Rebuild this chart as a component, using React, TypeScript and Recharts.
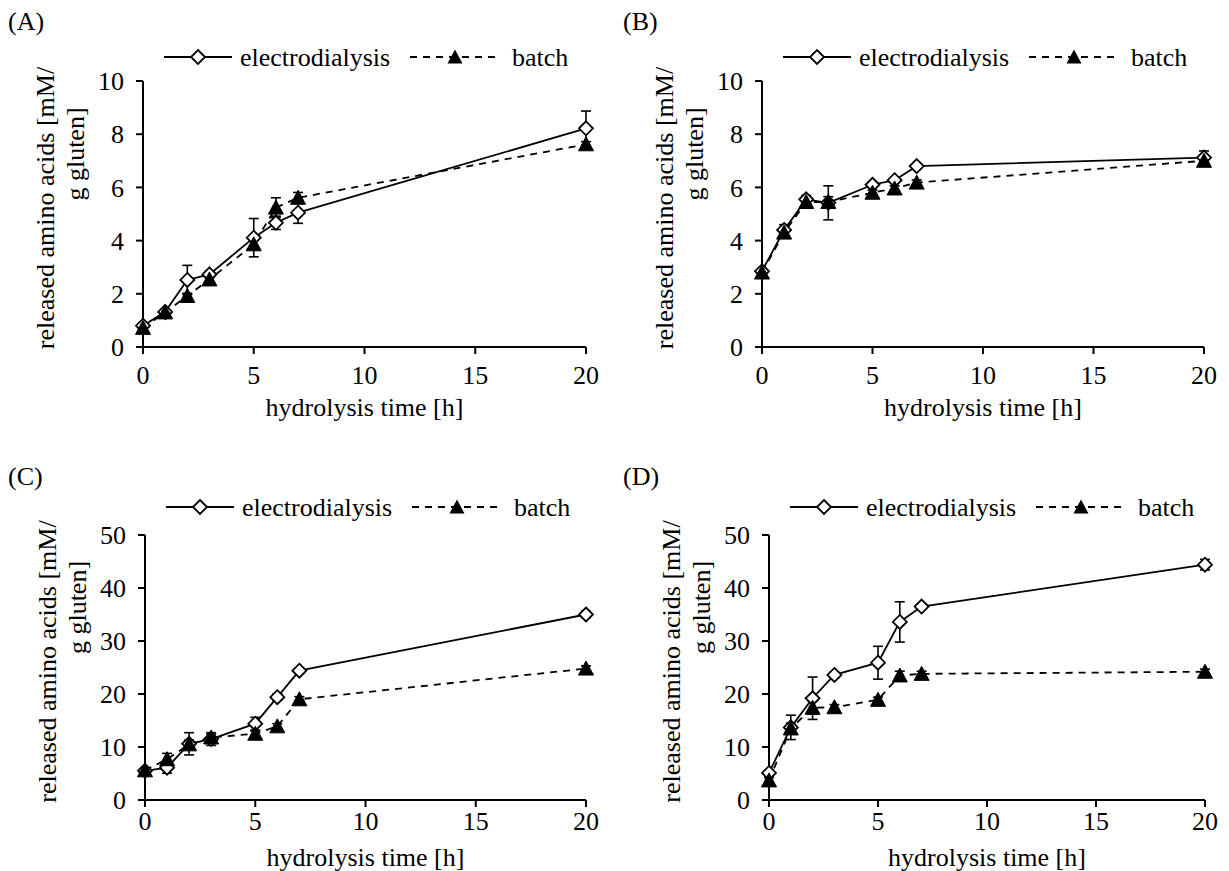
import React from "react";
import { LineChart, Line, XAxis, YAxis, ErrorBar, Legend } from "recharts";

const FONT = "Liberation Serif, Times New Roman, serif";

// hydrolysis time points [h]
const hours = [0, 1, 2, 3, 5, 6, 7, 20];
const xTicks = [0, 5, 10, 15, 20];

// (A)
const electroA = [0.8, 1.32, 2.52, 2.73, 4.11, 4.67, 5.05, 8.22];
const electroErrA = [0.05, 0.08, 0.55, 0.12, 0.72, 0.25, 0.4, 0.65];
const batchA = [0.72, 1.3, 1.92, 2.54, 3.86, 5.24, 5.61, 7.62];
const batchErrA = [0.05, 0.1, 0.1, 0.1, 0.2, 0.37, 0.2, 0.1];

// (B)
const electroB = [2.85, 4.4, 5.55, 5.42, 6.1, 6.27, 6.8, 7.12];
const electroErrB = [0.1, 0.2, 0.15, 0.64, 0.08, 0.08, 0.05, 0.25];
const batchB = [2.8, 4.3, 5.45, 5.45, 5.8, 5.96, 6.18, 7.0];
const batchErrB = [0.1, 0.2, 0.15, 0.2, 0.1, 0.1, 0.1, 0.1];

// (C)
const electroC = [5.5, 6.1, 10.6, 11.5, 14.4, 19.4, 24.4, 35.0];
const electroErrC = [0.5, 1.05, 2.1, 1.2, 1.2, 0.6, 0.5, 0.6];
const batchC = [5.6, 7.7, 10.5, 11.8, 12.5, 13.9, 19.0, 24.8];
const batchErrC = [0.5, 1.1, 0.8, 0.6, 0.5, 0.5, 0.5, 0.5];

// (D)
const electroD = [5.1, 13.7, 19.2, 23.6, 25.9, 33.6, 36.5, 44.4];
const electroErrD = [0.5, 2.3, 4.0, 0.5, 3.1, 3.8, 0.5, 1.0];
const batchD = [3.7, 13.5, 17.4, 17.5, 18.9, 23.5, 23.8, 24.2];
const batchErrD = [0.5, 1.0, 1.2, 0.5, 0.5, 0.8, 0.5, 0.5];

const ticks10 = [0, 2, 4, 6, 8, 10];
const ticks50 = [0, 10, 20, 30, 40, 50];

const Diamond = (props: any) => {
  const { cx, cy, index } = props;
  if (cx == null || cy == null) return <g key={`d${index}`} />;
  return (
    <polygon
      key={`d${index}`}
      points={`${cx},${cy - 7} ${cx + 7},${cy} ${cx},${cy + 7} ${cx - 7},${cy}`}
      fill="#fff"
      stroke="#000"
      strokeWidth={1.8}
    />
  );
};

const Triangle = (props: any) => {
  const { cx, cy, index } = props;
  if (cx == null || cy == null) return <g key={`t${index}`} />;
  return (
    <polygon
      key={`t${index}`}
      points={`${cx},${cy - 7.5} ${cx + 7.5},${cy + 6.5} ${cx - 7.5},${cy + 6.5}`}
      fill="#000"
      stroke="#000"
      strokeWidth={1}
    />
  );
};

const LegendBox = () => (
  <svg width={440} height={30} style={{ display: "block", overflow: "visible" }}>
    <line x1={0} y1={15} x2={68} y2={15} stroke="#000" strokeWidth={1.8} />
    <polygon points="34,8 41,15 34,22 27,15" fill="#fff" stroke="#000" strokeWidth={1.8} />
    <text x={76} y={15} dy="0.35em" fontSize={26} fontFamily={FONT} fill="#000">
      electrodialysis
    </text>
    <line x1={246} y1={15} x2={336} y2={15} stroke="#000" strokeWidth={1.8} strokeDasharray="7 6" />
    <polygon points="291,7.5 298.5,21.5 283.5,21.5" fill="#000" />
    <text x={348} y={15} dy="0.35em" fontSize={26} fontFamily={FONT} fill="#000">
      batch
    </text>
  </svg>
);

const YTitle = (props: any) => {
  const vb = props.viewBox;
  const right = vb.x + vb.width;
  const cy = vb.y + vb.height / 2 - 6;
  const x1 = right - 98;
  const x2 = right - 68;
  const y2 = cy - 54;
  return (
    <g fontSize={26} fontFamily={FONT} fill="#000">
      <text x={x1} y={cy} dy="0.35em" textAnchor="middle" transform={`rotate(-90 ${x1} ${cy})`}>
        released amino acids [mM/
      </text>
      <text x={x2} y={y2} dy="0.35em" textAnchor="middle" transform={`rotate(-90 ${x2} ${y2})`}>
        g gluten]
      </text>
    </g>
  );
};

interface PanelProps {
  letter: string;
  left: number;
  top: number;
  width: number;
  height: number;
  margin: { top: number; right: number; bottom: number; left: number };
  electro: number[];
  electroErr: number[];
  batch: number[];
  batchErr: number[];
  yMax: number;
  yTicks: number[];
  tickGap: number;
  titleGap: number;
  legendTop: number;
}

function Panel(p: PanelProps) {
  const data = hours.map((t, i) => ({
    t,
    electro: p.electro[i],
    electroErr: p.electroErr[i],
    batch: p.batch[i],
    batchErr: p.batchErr[i],
  }));
  const axisX = p.margin.left + 60;
  const tickStyle = { fill: "#000", fontSize: 26, fontFamily: FONT };
  const XTitle = (props: any) => {
    const vb = props.viewBox;
    return (
      <text
        x={vb.x + vb.width / 2}
        y={vb.y + p.titleGap}
        dy="0.35em"
        textAnchor="middle"
        fontSize={26}
        fontFamily={FONT}
        fill="#000"
      >
        hydrolysis time [h]
      </text>
    );
  };
  return (
    <div style={{ position: "absolute", left: p.left, top: p.top }}>
      <div
        style={{
          position: "absolute",
          left: p.letter === "A" || p.letter === "C" ? 8 : 8,
          top: p.letter === "A" || p.letter === "B" ? 7 : 27,
          fontFamily: FONT,
          fontSize: 26,
          lineHeight: "30px",
          color: "#000",
        }}
      >
        ({p.letter})
      </div>
      <LineChart width={p.width} height={p.height} data={data} margin={p.margin}>
        <XAxis
          dataKey="t"
          type="number"
          domain={[0, 20]}
          ticks={xTicks}
          interval={0}
          height={60}
          tickSize={7}
          tickMargin={p.tickGap}
          tick={tickStyle}
          axisLine={{ stroke: "#000", strokeWidth: 2 }}
          tickLine={{ stroke: "#000", strokeWidth: 2 }}
          label={{ content: XTitle }}
        />
        <YAxis
          type="number"
          domain={[0, p.yMax]}
          ticks={p.yTicks}
          interval={0}
          width={60}
          tickSize={7}
          tickMargin={12}
          tick={tickStyle}
          axisLine={{ stroke: "#000", strokeWidth: 2 }}
          tickLine={{ stroke: "#000", strokeWidth: 2 }}
          label={{ content: YTitle }}
        />
        <Legend
          layout="horizontal"
          verticalAlign="middle"
          align="center"
          content={() => <LegendBox />}
          wrapperStyle={{ top: p.legendTop, left: axisX + 21, width: 440, height: 30 }}
        />
        <Line
          dataKey="electro"
          stroke="#000"
          strokeWidth={1.8}
          dot={Diamond}
          activeDot={false}
          isAnimationActive={false}
        >
          <ErrorBar dataKey="electroErr" width={5} stroke="#000" strokeWidth={1.6} direction="y" />
        </Line>
        <Line
          dataKey="batch"
          stroke="#000"
          strokeWidth={1.8}
          strokeDasharray="7 6"
          dot={Triangle}
          activeDot={false}
          isAnimationActive={false}
        >
          <ErrorBar dataKey="batchErr" width={5} stroke="#000" strokeWidth={1.6} direction="y" />
        </Line>
      </LineChart>
    </div>
  );
}

export default function App() {
  return (
    <div
      style={{
        position: "absolute",
        left: 0,
        top: 0,
        width: 1229,
        height: 871,
        background: "#fff",
        overflow: "hidden",
      }}
    >
      <Panel
        letter="A"
        left={0}
        top={0}
        width={615}
        height={435}
        margin={{ top: 81, right: 29, bottom: 28, left: 83 }}
        electro={electroA}
        electroErr={electroErrA}
        batch={batchA}
        batchErr={batchErrA}
        yMax={10}
        yTicks={ticks10}
        tickGap={12}
        titleGap={60}
        legendTop={42}
      />
      <Panel
        letter="B"
        left={615}
        top={0}
        width={614}
        height={435}
        margin={{ top: 81, right: 25, bottom: 28, left: 87 }}
        electro={electroB}
        electroErr={electroErrB}
        batch={batchB}
        batchErr={batchErrB}
        yMax={10}
        yTicks={ticks10}
        tickGap={12}
        titleGap={60}
        legendTop={42}
      />
      <Panel
        letter="C"
        left={0}
        top={435}
        width={615}
        height={436}
        margin={{ top: 100, right: 29, bottom: 11, left: 85 }}
        electro={electroC}
        electroErr={electroErrC}
        batch={batchC}
        batchErr={batchErrC}
        yMax={50}
        yTicks={ticks50}
        tickGap={5}
        titleGap={57}
        legendTop={57}
      />
      <Panel
        letter="D"
        left={615}
        top={435}
        width={614}
        height={436}
        margin={{ top: 100, right: 24, bottom: 11, left: 94 }}
        electro={electroD}
        electroErr={electroErrD}
        batch={batchD}
        batchErr={batchErrD}
        yMax={50}
        yTicks={ticks50}
        tickGap={5}
        titleGap={57}
        legendTop={57}
      />
    </div>
  );
}
